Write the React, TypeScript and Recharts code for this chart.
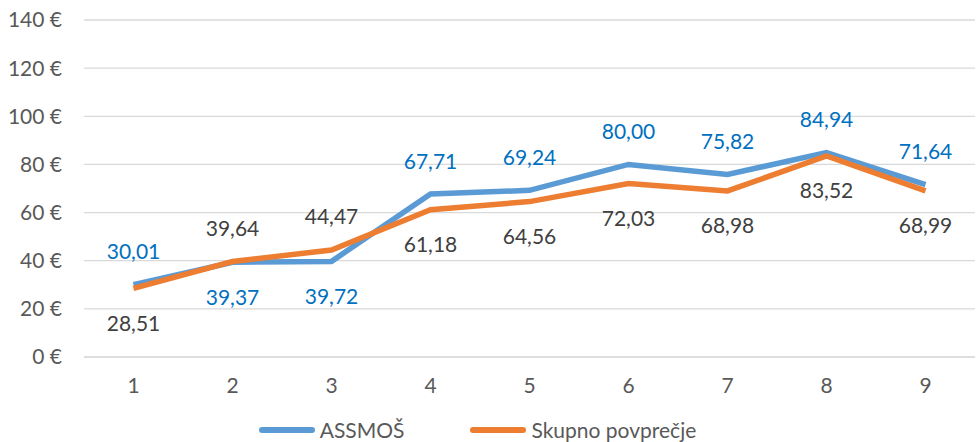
import { LineChart, Line, XAxis, YAxis, CartesianGrid, Legend, LabelList } from "recharts";

const categories = ["1", "2", "3", "4", "5", "6", "7", "8", "9"];
const assmos = [30.01, 39.37, 39.72, 67.71, 69.24, 80.0, 75.82, 84.94, 71.64];
const skupno = [28.51, 39.64, 44.47, 61.18, 64.56, 72.03, 68.98, 83.52, 68.99];
// where each data label sits relative to its point
const assmosLabelPos = ["top", "bottom", "bottom", "top", "top", "top", "top", "top", "top"];
const skupnoLabelPos = ["bottom", "top", "top", "bottom", "bottom", "bottom", "bottom", "bottom", "bottom"];
const yTicks = [0, 20, 40, 60, 80, 100, 120, 140];

const BLUE = "#5B9BD5";
const ORANGE = "#ED7D31";
const FONT = "Lato, 'Open Sans', sans-serif";
const FS = 21;

const data = categories.map((c, i) => ({ cat: c, assmos: assmos[i], skupno: skupno[i] }));

const fmt = (v: number) => v.toFixed(2).replace(".", ",");

function makeLabel(positions: string[], color: string) {
  return (props: any) => {
    const { x, y, value, index } = props;
    const above = positions[index] === "top";
    return (
      <text
        x={x}
        y={above ? y - 34 : y + 34}
        fill={color}
        fontSize={FS}
        fontFamily={FONT}
        textAnchor="middle"
        dominantBaseline="central"
      >
        {fmt(Number(value))}
      </text>
    );
  };
}

function LegendContent() {
  const item = (color: string, label: string, gap: number) => (
    <div style={{ display: "flex", alignItems: "center", marginRight: gap }}>
      <div style={{ width: 56, height: 6, borderRadius: 3, background: color, marginRight: 5 }} />
      <span style={{ fontSize: FS, color: "#595959", fontFamily: FONT }}>{label}</span>
    </div>
  );
  return (
    <div style={{ display: "flex", justifyContent: "center", paddingRight: 20, paddingTop: 10 }}>
      {item(BLUE, "ASSMOŠ", 66)}
      {item(ORANGE, "Skupno povprečje", 0)}
    </div>
  );
}

export default function App() {
  return (
    <div style={{ position: "absolute", left: 0, top: 0, width: 980, height: 442, background: "#fff" }}>
      <LineChart width={980} height={442} data={data} margin={{ top: 20, right: 5, left: 0, bottom: 0 }}>
        <CartesianGrid vertical={false} stroke="#d9d9d9" strokeWidth={1.3} />
        <XAxis
          dataKey="cat"
          padding={{ left: 49.5, right: 49.5 }}
          axisLine={{ stroke: "#d9d9d9" }}
          tickLine={false}
          tickSize={0}
          tickMargin={21}
          height={50}
          tick={{ fill: "#595959", fontSize: FS, fontFamily: FONT }}
        />
        <YAxis
          domain={[0, 140]}
          ticks={yTicks}
          width={84}
          axisLine={false}
          tickLine={false}
          tickSize={0}
          tickMargin={22}
          tickFormatter={(v) => `${v} €`}
          tick={{ fill: "#595959", fontSize: FS, fontFamily: FONT }}
        />
        <Legend verticalAlign="bottom" height={35} content={<LegendContent />} />
        <Line
          dataKey="assmos"
          name="ASSMOŠ"
          stroke={BLUE}
          strokeWidth={5.5}
          dot={false}
          isAnimationActive={false}
        >
          <LabelList dataKey="assmos" content={makeLabel(assmosLabelPos, "#0070C0")} />
        </Line>
        <Line
          dataKey="skupno"
          name="Skupno povprečje"
          stroke={ORANGE}
          strokeWidth={5.5}
          dot={false}
          isAnimationActive={false}
        >
          <LabelList dataKey="skupno" content={makeLabel(skupnoLabelPos, "#404040")} />
        </Line>
      </LineChart>
    </div>
  );
}
